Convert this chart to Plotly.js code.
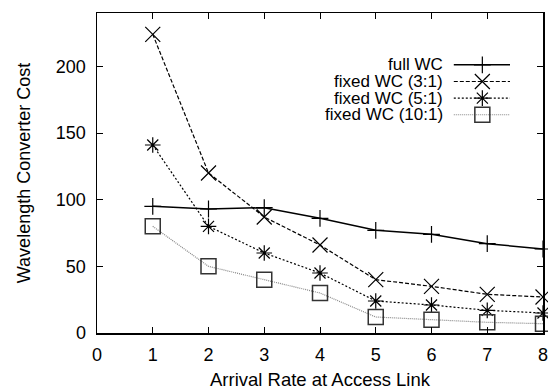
<!DOCTYPE html>
<html>
<head>
<meta charset="utf-8">
<script src="https://cdn.plot.ly/plotly-3.0.1.min.js"></script>
<style>html,body{margin:0;padding:0;background:#fff;}#chart{width:548px;height:390px;}</style>
</head>
<body>
<div id="chart"></div>
<script>
// ---- data ----
const arrivalRate = [1, 2, 3, 4, 5, 6, 7, 8];
const fullWC   = [95, 93, 94, 86, 77, 74, 67, 63];
const fixed3   = [224, 120, 87, 66, 40, 35, 29, 27];
const fixed5   = [141, 80, 60, 45, 24, 21, 17, 15];
const fixed10  = [80, 50, 40, 30, 12, 10, 8, 7];
const seriesNames = ['full WC', 'fixed WC (3:1)', 'fixed WC (5:1)', 'fixed WC (10:1)'];
const xTickVals = [0, 1, 2, 3, 4, 5, 6, 7, 8];
const yTickVals = [0, 50, 100, 150, 200];

// ---- styles ----
const FONT = 'Liberation Sans, Arial, Helvetica, sans-serif';
const styles = [
  {line: {color: '#000', width: 1.5, dash: 'solid'}, marker: {symbol: 'cross-thin', size: 12, line: {color: '#000', width: 1.2}}},
  {line: {color: '#000', width: 1.2, dash: '4px,2px'}, marker: {symbol: 'x-thin', size: 15, line: {color: '#000', width: 1.2}}},
  {line: {color: '#000', width: 1.2, dash: '2px,2px'}, marker: {symbol: 'asterisk', size: 13, line: {color: '#000', width: 1.2}}},
  {line: {color: '#888', width: 1.2, dash: '1px,1px'}, marker: {symbol: 'square-open', size: 15, color: '#333', line: {color: '#333', width: 1.5}}}
];
const allSeries = [fullWC, fixed3, fixed5, fixed10];

const traces = allSeries.map((ys, i) => ({
  type: 'scatter', mode: 'lines+markers', x: arrivalRate, y: ys, name: seriesNames[i],
  line: styles[i].line, marker: Object.assign({color: styles[i].marker.color || '#000'}, styles[i].marker),
  cliponaxis: false, showlegend: false, hoverinfo: 'skip'
}));

// ---- manual key (gnuplot style: text then sample) in plot-area fractions ----
const keyRowY = [0.838, 0.786, 0.734, 0.682];
const keyTextX = 0.78;
const keyLineX = [0.80, 0.926];
const keyMarkX = 0.864;
const annotations = [];
seriesNames.forEach((nm, i) => {
  traces.push({type: 'scatter', mode: 'lines', xaxis: 'x2', yaxis: 'y2',
    x: keyLineX, y: [keyRowY[i], keyRowY[i]], line: styles[i].line, showlegend: false, hoverinfo: 'skip'});
  traces.push({type: 'scatter', mode: 'markers', xaxis: 'x2', yaxis: 'y2',
    x: [keyMarkX], y: [keyRowY[i]], marker: Object.assign({color: styles[i].marker.color || '#000'}, styles[i].marker),
    showlegend: false, hoverinfo: 'skip', cliponaxis: false});
  annotations.push({xref: 'paper', yref: 'paper', x: keyTextX, y: keyRowY[i], text: nm, showarrow: false,
    xanchor: 'right', yanchor: 'middle', font: {family: FONT, size: 17, color: '#000'}});
});

const axisCommon = {
  showgrid: false, zeroline: false, showline: true, linecolor: '#000', linewidth: 1.5,
  ticks: 'inside', ticklen: 6, tickwidth: 1, tickcolor: '#000', mirror: 'ticks',
  ticklabeloverflow: 'allow',
  tickfont: {family: FONT, size: 18, color: '#000'}
};

const layout = {
  width: 548, height: 390,
  margin: {l: 97, r: 5, t: 13, b: 57, pad: 0},
  paper_bgcolor: '#fff', plot_bgcolor: '#fff',
  showlegend: false,
  font: {family: FONT, size: 18, color: '#000'},
  xaxis: Object.assign({}, axisCommon, {range: [0, 8], tickvals: xTickVals, ticklabelstandoff: 5,
    title: {text: 'Arrival Rate at Access Link', font: {family: FONT, size: 18.5}, standoff: 12}}),
  yaxis: Object.assign({}, axisCommon, {range: [0, 240], tickvals: yTickVals, ticklabelstandoff: 6,
    title: {text: 'Wavelength Converter Cost', font: {family: FONT, size: 18}, standoff: 20}}),
  xaxis2: {overlaying: 'x', range: [0, 1], visible: false, fixedrange: true},
  yaxis2: {overlaying: 'y', range: [0, 1], visible: false, fixedrange: true},
  annotations: annotations
};

Plotly.newPlot('chart', traces, layout, {staticPlot: true, displayModeBar: false});
</script>
</body>
</html>
